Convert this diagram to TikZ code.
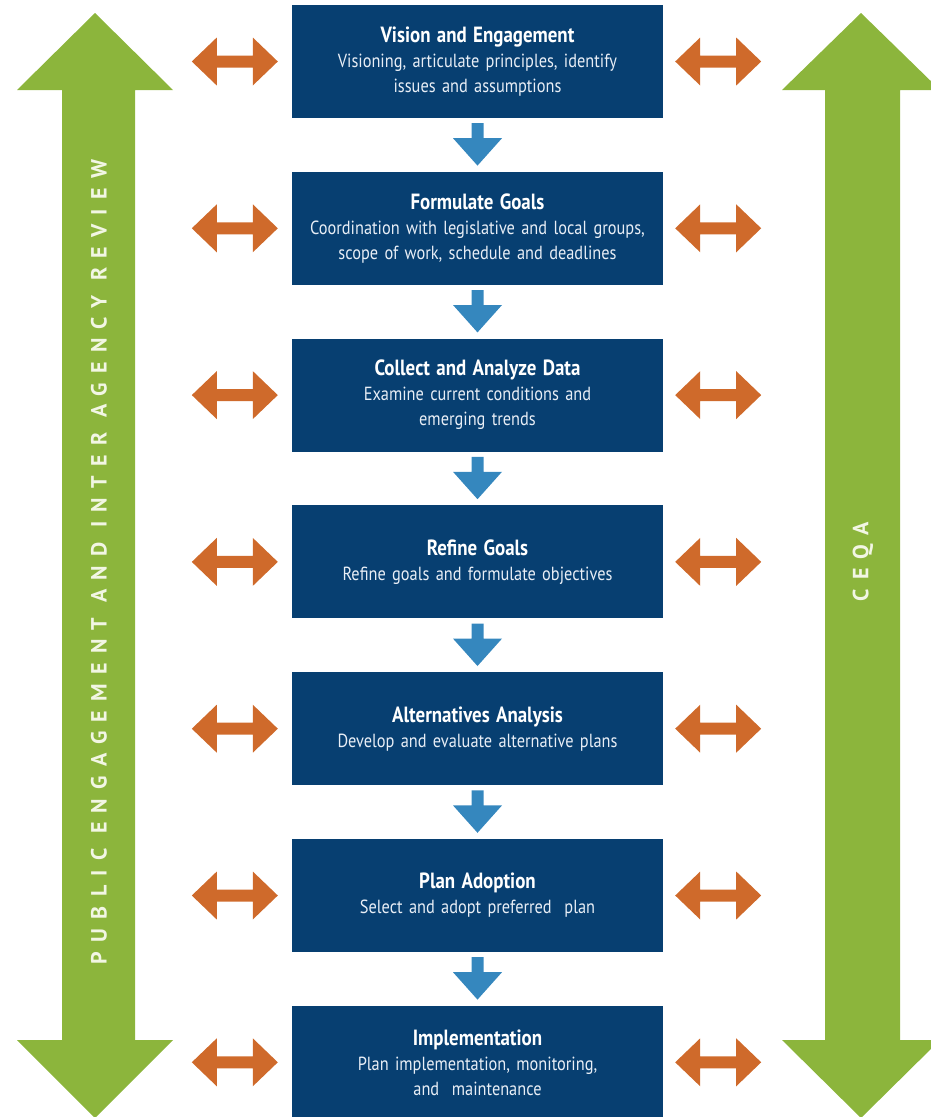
\documentclass[tikz,border=0pt]{standalone}
\usepackage{fontspec}
\setmainfont{PT Sans}[FakeStretch=0.86]
\newfontfamily\bannerfont{PT Sans}[LetterSpace=42]
\usetikzlibrary{calc}

\definecolor{stepnavy}{HTML}{073F71}
\definecolor{flowblue}{HTML}{3587BE}
\definecolor{linkorange}{HTML}{CF6A2B}
\definecolor{bannergreen}{HTML}{8CB53C}
\definecolor{bannerwhite}{HTML}{F2F6E4}
\definecolor{stepwhite}{HTML}{E8EEF6}

\tikzset{
  stepbox/.style={fill=stepnavy, text=stepwhite, minimum width=371pt, minimum height=113pt,
    text width=365pt, align=center, inner sep=0pt, font=\fontsize{19}{25}\selectfont},
  flowarrow/.style={fill=flowblue},
  linkarrow/.style={fill=linkorange},
  bannerarrow/.style={fill=bannergreen},
  bannertext/.style={text=bannerwhite, rotate=90, inner sep=0pt,
    font=\bannerfont\bfseries\fontsize{22}{22}\selectfont}
}
\newcommand{\steptitle}[1]{{\color{white}\bfseries\fontsize{22}{25}\selectfont #1}}

\begin{document}
\begin{tikzpicture}[x=1pt, y=-1pt]
\useasboundingbox (0,0) rectangle (931,1117);
\clip (0,0) rectangle (931,1117);

% side banners
\fill[bannerarrow] (95,13) -- (173,90) -- (135,90) -- (135,1040) -- (173,1040) -- (95,1118)
  -- (17,1040) -- (62,1040) -- (62,90) -- (17,90) -- cycle;
\fill[bannerarrow] (861,13) -- (940,90) -- (900,90) -- (900,1040) -- (940,1040) -- (861,1118)
  -- (782,1040) -- (825,1040) -- (825,90) -- (782,90) -- cycle;
\node[bannertext] (review) at (99,562) {PUBLIC ENGAGEMENT AND INTER AGENCY REVIEW};
\node[bannertext] (ceqa) at (863,562) {CEQA};

% process steps
\node[stepbox] (vision) at (477.5,61.5) {\steptitle{Vision and Engagement}\\Visioning, articulate principles, identify\\issues and assumptions};
\node[stepbox] (goals) at (477.5,228.3) {\steptitle{Formulate Goals}\\Coordination with legislative and local groups,\\scope of work, schedule and deadlines};
\node[stepbox] (data) at (477.5,395.1) {\steptitle{Collect and Analyze Data}\\Examine current conditions and\\emerging trends};
\node[stepbox] (refine) at (477.5,561.9) {\steptitle{Refine Goals}\\Refine goals and formulate objectives};
\node[stepbox] (alt) at (477.5,728.7) {\steptitle{Alternatives Analysis}\\Develop and evaluate alternative plans};
\node[stepbox] (adopt) at (477.5,895.5) {\steptitle{Plan Adoption}\\Select and adopt preferred~ plan};
\node[stepbox] (impl) at (477.5,1062.3) {\steptitle{Implementation}\\Plan implementation, monitoring,\\and~ maintenance};

% flow between steps
\foreach \a/\b in {vision/goals, goals/data, data/refine, refine/alt, alt/adopt, adopt/impl}
  \fill[flowarrow] ($(\a.south)+(-6,5)$) -- ++(12,0) -- ++(0,15) -- ++(18.5,0)
    -- ($(\b.north)+(0,-6)$) -- ($(\a.south)+(-24.5,20)$) -- ++(18.5,0) -- cycle;

% links to the banners
\foreach \n in {vision, goals, data, refine, alt, adopt, impl} {
  \fill[linkarrow] ($(\n.west)+(-100,0)$) -- ++(25,-24) -- ++(0,18) -- ++(36,0) -- ++(0,-18)
    -- ++(25,24) -- ++(-25,24) -- ++(0,-18) -- ++(-36,0) -- ++(0,18) -- cycle;
  \fill[linkarrow] ($(\n.east)+(12,0)$) -- ++(25,-24) -- ++(0,18) -- ++(36,0) -- ++(0,-18)
    -- ++(25,24) -- ++(-25,24) -- ++(0,-18) -- ++(-36,0) -- ++(0,18) -- cycle;
}
\end{tikzpicture}
\end{document}
